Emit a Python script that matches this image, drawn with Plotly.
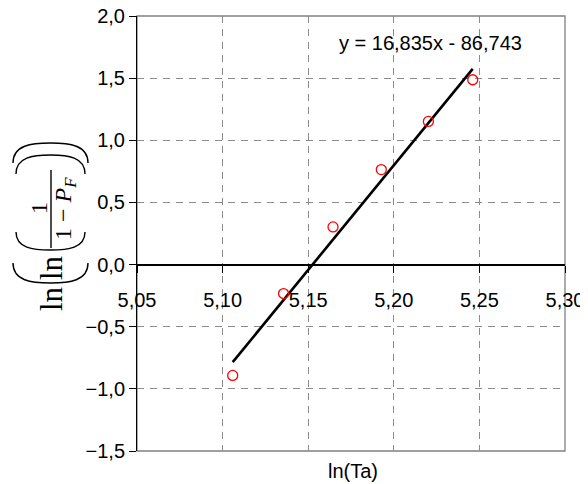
import plotly.graph_objects as go

# ---- data ----
ln_ta = [5.1059, 5.1356, 5.1645, 5.1927, 5.2202, 5.2461]
ln_ln_pf = [-0.892, -0.233, 0.303, 0.764, 1.152, 1.487]
fit_slope = 16.835
fit_intercept = -86.743
equation_label = "y = 16,835x - 86,743"
x_title = "ln(Ta)"

# trend line over the data span, using the fit coefficients
fit_x = [min(ln_ta), max(ln_ta)]
fit_y = [fit_slope * v + fit_intercept for v in fit_x]

# page has an 8px body margin; the figure fills the rest of the 588x484 window
OFF = 8
W, H = 588 - OFF, 484 - OFF
X0, X1, Y0, Y1 = 137, 565, 16, 451        # plot area in window pixels
ML, MR, MT, MB = X0 - OFF, 588 - X1, Y0 - OFF, 484 - Y1


def px(x):
    return (x - X0) / (X1 - X0)


def py(y):
    return (Y1 - y) / (Y1 - Y0)


fig = go.Figure()
fig.add_trace(go.Scatter(x=fit_x, y=fit_y, mode="lines",
                         line=dict(color="black", width=2.6),
                         showlegend=False, hoverinfo="skip"))
fig.add_trace(go.Scatter(x=ln_ta, y=ln_ln_pf, mode="markers",
                         marker=dict(symbol="circle-open", size=10,
                                     color="red", line=dict(width=1.3, color="red")),
                         showlegend=False))

FONT = "Liberation Sans, Arial, sans-serif"
SERIF = "Liberation Serif, Times New Roman, serif"
GRID = "#8c8c8c"

fig.update_layout(
    width=W, height=H,
    margin=dict(l=ML, r=MR, t=MT, b=MB, pad=0, autoexpand=False),
    paper_bgcolor="white", plot_bgcolor="white",
    separators=", ",
    font=dict(family=FONT, size=20, color="black"),
    xaxis=dict(range=[5.05, 5.30], dtick=0.05, tick0=5.05, tickformat=".2f",
               anchor="free", position=1.5 / 3.5, automargin=False,
               showline=True, linecolor="black", linewidth=1,
               ticks="outside", ticklen=7, tickcolor="black",
               ticklabelstandoff=10, ticklabeloverflow="allow",
               showgrid=True, gridcolor=GRID, griddash="7px,6px", gridwidth=1,
               zeroline=False, tickfont=dict(size=20)),
    yaxis=dict(range=[-1.5, 2.0], dtick=0.5, tick0=-1.5, tickformat=".1f",
               automargin=False, ticklabeloverflow="allow",
               showline=True, linecolor="black", linewidth=1,
               ticks="outside", ticklen=7, tickcolor="black",
               showgrid=True, gridcolor=GRID, griddash="7px,6px", gridwidth=1,
               zeroline=True, zerolinecolor="black", zerolinewidth=1,
               tickfont=dict(size=20)),
)

shapes = [
    dict(type="rect", xref="paper", yref="paper", x0=0, x1=1, y0=0, y1=1,
         line=dict(color="#808080", width=1.3), layer="below"),
]


def arc(x1, x2, yend, ypeak):
    xm = (x1 + x2) / 2
    k = 0.25 * (x2 - x1)
    ctrl = yend + (ypeak - yend) * 0.9
    return (f"M {px(x1)},{py(yend)} C {px(x1)},{py(ctrl)} {px(xm - k)},{py(ypeak)} {px(xm)},{py(ypeak)} "
            f"C {px(xm + k)},{py(ypeak)} {px(x2)},{py(ctrl)} {px(x2)},{py(yend)}")


for (x1, x2, ye, yp) in [(13, 88, 163, 143), (16, 85, 174, 155),
                         (16, 85, 232, 250), (13, 88, 263, 283)]:
    shapes.append(dict(type="path", xref="paper", yref="paper", path=arc(x1, x2, ye, yp),
                       line=dict(color="black", width=1.4)))
# fraction bar
shapes.append(dict(type="line", xref="paper", yref="paper",
                   x0=px(51), x1=px(51), y0=py(170), y1=py(248),
                   line=dict(color="black", width=1.4)))
fig.update_layout(shapes=shapes)


def anno(text, x, y, size, family, angle=0, xref="paper", yref="paper"):
    return dict(text=text, x=x, y=y, xref=xref, yref=yref, textangle=angle,
                xanchor="center", yanchor="middle", showarrow=False,
                font=dict(size=size, family=family, color="black"))


annos = [
    anno(equation_label, 5.2212, 1.785, 20, FONT, xref="x", yref="y"),
    anno(x_title, px(353), py(471), 20, FONT),
    anno("1", px(39), py(208), 24, SERIF, -90),
    anno("1 − <i>P</i><sub><i>F</i></sub>", px(65), py(209), 24, SERIF, -90),
    anno("ln", px(51), py(268), 31, SERIF, -90),
    anno("ln", px(51), py(299), 31, SERIF, -90),
]
fig.update_layout(annotations=annos)

fig.write_html("out.html")
